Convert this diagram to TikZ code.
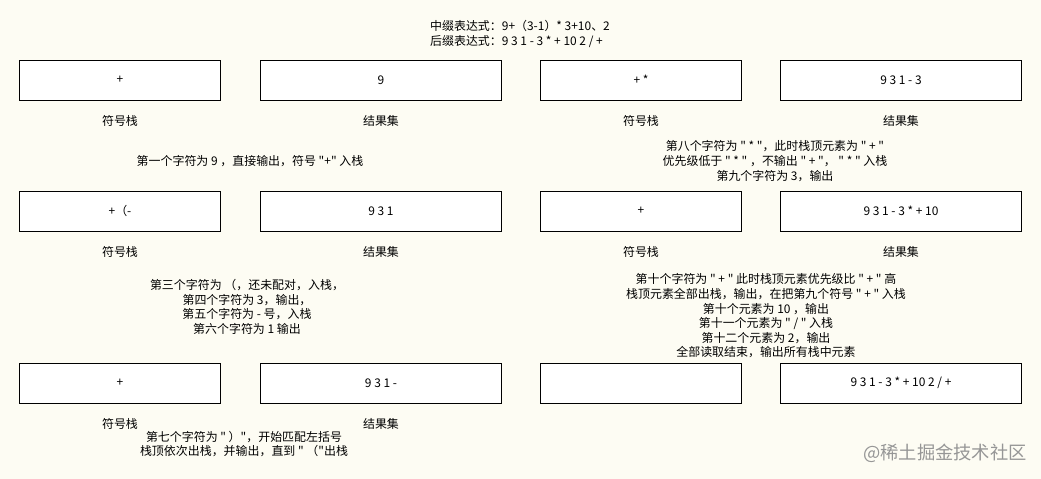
\documentclass[tikz,border=0pt]{standalone}
\usepackage{fontspec}
\setmainfont{Noto Sans CJK SC}[Ligatures=TeXOff]
\usepackage{tikz}
\usetikzlibrary{positioning}
\definecolor{paper}{RGB}{253,252,243}
\definecolor{mark}{RGB}{150,150,150}

\begin{document}
\begin{tikzpicture}[x=0.025cm, y=-0.025cm, font=\fontsize{8.5}{10.4}\selectfont,
        cell/.style={draw, fill=white, line width=0.7pt, minimum height=1cm, inner sep=0pt},
        note/.style={align=center}]
        \fill[paper] (0,0) rectangle (1041,479);
        \useasboundingbox (0,0) rectangle (1041,479);
        \node[align=left] (title) at (520,34) {中缀表达式：9+（3-1）* 3+10、2\\后缀表达式：9 3 1 - 3 * + 10 2 /  +};
        % stack / result pairs
        \foreach \n/\sx/\rx/\y/\stk/\res in {1/120/381/80/+/9, 2/641/901/80/+ */9 3 1 - 3, 3/120/381/211/+（-/9 3 1, 4/641/901/211/+/9 3 1 - 3 * + 10, 5/120/381/383/+/9 3 1 -, 6/641/901/383/{}/{9 3 1 - 3 * + 10 2 / +}}{
            \node[cell, minimum width=5cm] (s\n) at (\sx,\y) {\stk};
            \node[cell, minimum width=6cm] (r\n) at (\rx,\y) {\res};}
        \foreach \n in {1,...,5}{
            \node[below=2.5mm of s\n] (fs\n) {符号栈};
            \node[below=2.5mm of r\n] (jg\n) {结果集};}
        \node[note] (n1) at (250,161) {第一个字符为 9 ，直接输出，符号 "+" 入栈};
        \node[note] (n2) at (775,161) {第八个字符为 " * "，此时栈顶元素为 " + "\\优先级低于 " * " ，不输出 " + "， " * " 入栈\\第九个字符为 3，输出};
        \node[note] (n3) at (247,307) {第三个字符为 （，还未配对，入栈，\\第四个字符为 3，输出，\\第五个字符为 - 号，入栈\\第六个字符为 1 输出};
        \node[note] (n4) at (766,316) {第十个字符为 " + " 此时栈顶元素优先级比 " + " 高\\栈顶元素全部出栈，输出，在把第九个符号 " + " 入栈\\第十个元素为 10 ，输出\\第十一个元素为 " / " 入栈\\第十二个元素为 2，输出\\全部读取结束，输出所有栈中元素};
        \node[note] (n5) at (244,444) {第七个字符为 " ）"，开始匹配左括号\\栈顶依次出栈，并输出，直到 " （"出栈};
        \node[text=mark, font=\fontsize{13}{15}\selectfont] (wm) at (945,453) {@稀土掘金技术社区};
\end{tikzpicture}
\end{document}
